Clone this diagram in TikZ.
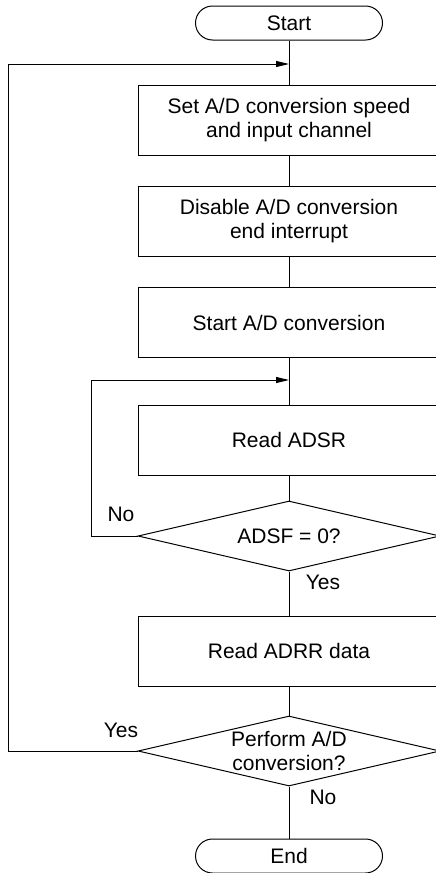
\documentclass[tikz,border=0pt]{standalone}
\usepackage{fontspec}
\setmainfont{Liberation Sans}
\usetikzlibrary{shapes.geometric,arrows.meta}
\begin{document}
\begin{tikzpicture}[x=1pt,y=-1pt,line width=1pt,
  every node/.style={font=\fontsize{21}{24}\selectfont},
  procbox/.style={draw,minimum width=302pt,minimum height=70pt,align=center,inner sep=0pt},
  termbox/.style={draw,rounded corners=17pt,minimum width=187pt,minimum height=34pt,inner sep=0pt},
  decbox/.style={draw,diamond,minimum width=302pt,minimum height=70pt,inner sep=0pt},
  flowarrow/.style={-{Triangle[length=13pt,width=6pt]}}]
\useasboundingbox (0,0) rectangle (436,873);
\node[termbox] (start) at (289,23) {Start};
\node[procbox] (setup) at (289,120) {Set A/D conversion speed\\and input channel};
\node[procbox] (disint) at (289,221) {Disable A/D conversion\\end interrupt};
\node[procbox] (convst) at (289,322.5) {Start A/D conversion};
\node[procbox] (rdadsr) at (289,440) {Read ADSR};
\node[decbox,label={center:ADSF = 0?}] (chkadsf) at (289,536) {};
\node[procbox] (rdadrr) at (289,651) {Read ADRR data};
\node[decbox,label={[align=center]center:Perform A/D\\conversion?}] (again) at (289,751) {};
\node[termbox] (stop) at (289,856) {End};
\coordinate (outerjoin) at (289,64);
\coordinate (innerjoin) at (289,380);
\draw (start) -- (setup);
\draw (setup) -- (disint);
\draw (disint) -- (convst);
\draw (convst) -- (rdadsr);
\draw (rdadsr) -- (chkadsf);
\draw (chkadsf) -- (rdadrr);
\draw (rdadrr) -- (again);
\draw (again) -- (stop);
\draw[flowarrow] (chkadsf.west) -- ++(-46,0) |- (innerjoin);
\draw[flowarrow] (again.west) -- ++(-129,0) |- (outerjoin);
\node (noadsf) at (121,514) {No};
\node (yesadsf) at (323,582) {Yes};
\node (yesagain) at (121,730) {Yes};
\node (noagain) at (323,797) {No};
\end{tikzpicture}
\end{document}
